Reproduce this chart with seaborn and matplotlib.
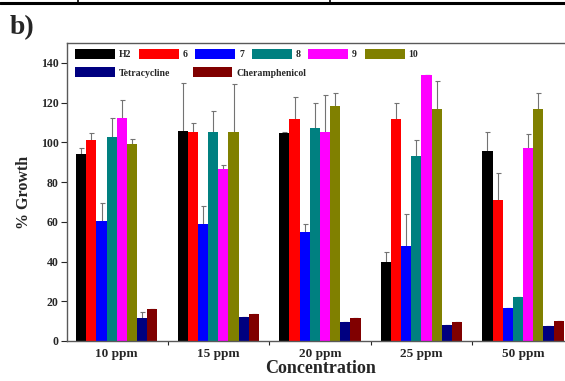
import matplotlib
matplotlib.use("Agg")
import matplotlib.pyplot as plt
import seaborn as sns
import pandas as pd
from matplotlib.patches import Patch
from matplotlib.lines import Line2D

# data
concentrations = ["10 ppm", "15 ppm", "20 ppm", "25 ppm", "50 ppm"]
compounds = ["H2", "6", "7", "8", "9", "10", "Tetracycline", "Cheramphenicol"]
growth_h2 = [94, 105.5, 104.5, 40, 95.5]
growth_6 = [101, 105, 112, 112, 71]
growth_7 = [60.5, 59, 55, 48, 16.5]
growth_8 = [102.5, 105, 107, 93, 22]
growth_9 = [112.5, 86.5, 105, 134, 97]
growth_10 = [99, 105, 118.5, 117, 117]
growth_tet = [11.7, 12.2, 9.7, 8, 7.5]
growth_chl = [16, 13.4, 11.7, 9.7, 10]
err_h2 = [3, 24.5, 0.5, 5, 9.5]
err_6 = [3.5, 5, 11, 8, 13.5]
err_7 = [9, 9, 4, 16, 0]
err_8 = [10, 11, 13, 8, 0]
err_9 = [9, 2, 19, 0, 7]
err_10 = [2.5, 24.5, 6.5, 14, 8]
err_tet = [3, 0, 0, 0, 0]
err_chl = [0, 0, 0, 0, 0]
colors = ["#000000", "#ff0000", "#0000ff", "#008080", "#ff00ff", "#808000", "#000080", "#800000"]

values = [growth_h2, growth_6, growth_7, growth_8, growth_9, growth_10, growth_tet, growth_chl]
errors = [err_h2, err_6, err_7, err_8, err_9, err_10, err_tet, err_chl]

rows = []
for comp, vals in zip(compounds, values):
    for conc, v in zip(concentrations, vals):
        rows.append({"Concentration": conc, "Compound": comp, "Growth": v})
df = pd.DataFrame(rows)

sns.set_style("ticks")
plt.rcParams['font.family'] = ['Liberation Serif', 'DejaVu Serif']
plt.rcParams['font.weight'] = 'bold'

fig = plt.figure(figsize=(5.65, 3.81), dpi=100)
ax = fig.add_axes([0.1186, 0.105, 0.897, 0.782])

sns.barplot(data=df, x="Concentration", y="Growth", hue="Compound",
            hue_order=compounds, order=concentrations, palette=colors,
            width=0.8, saturation=1, errorbar=None, legend=False, ax=ax,
            linewidth=0, zorder=2)

# error bars (symmetric, lower half hidden behind the bars)
for cont, errs in zip(ax.containers, errors):
    xs = [p.get_x() + p.get_width() / 2 for p in cont.patches]
    hs = [p.get_height() for p in cont.patches]
    ax.errorbar(xs, hs, yerr=errs, fmt="none", ecolor="0.45", elinewidth=0.8,
                capsize=1.8, capthick=0.8, zorder=1)

ax.set_xlim(-0.49, 4.5)
ax.set_ylim(0, 150)
ax.set_yticks(range(0, 141, 20))
ax.set_xticks([0.5, 1.5, 2.5, 3.5], minor=True)
ax.tick_params(axis="x", which="major", length=0, labelsize=9.5, pad=5)
ax.tick_params(axis="x", which="minor", length=3, width=0.8, direction="out")
ax.tick_params(axis="y", length=4, width=0.8, labelsize=8.5, pad=2)
for lab in ax.get_xticklabels() + ax.get_yticklabels():
    lab.set_fontweight("bold")
for s in ax.spines.values():
    s.set_color("0.35")
    s.set_linewidth(1.0)

ax.set_xlabel("Concentration", fontsize=13, fontweight="bold", labelpad=0)
ax.set_ylabel("% Growth", fontsize=11.5, fontweight="bold", labelpad=6)

# legend in two rows
handles = [Patch(facecolor=c, edgecolor="none") for c in colors]
leg_kw = dict(frameon=False, handlelength=4.1, handleheight=1.25,
              handletextpad=0.4, borderpad=0, borderaxespad=0,
              loc="upper left", prop={"weight": "bold", "size": 7})
leg1 = ax.legend(handles[:6], compounds[:6], ncol=6, columnspacing=0.8,
                 bbox_to_anchor=(0.016, 0.98), **leg_kw)
ax.add_artist(leg1)
ax.legend(handles[6:], compounds[6:], ncol=2, columnspacing=2.3,
          bbox_to_anchor=(0.016, 0.919), **leg_kw)

# panel label and table rule from the source document
fig.text(0.018, 0.96, "b)", fontsize=20, fontweight="bold", va="top", ha="left")
fig.add_artist(Line2D([0, 1], [0.993, 0.993], color="black", lw=2.2, transform=fig.transFigure))
for xf in [78 / 565, 330 / 565]:
    fig.add_artist(Line2D([xf, xf], [0.993, 1.0], color="black", lw=1.2, transform=fig.transFigure))

fig.savefig("out.png", dpi=100)
